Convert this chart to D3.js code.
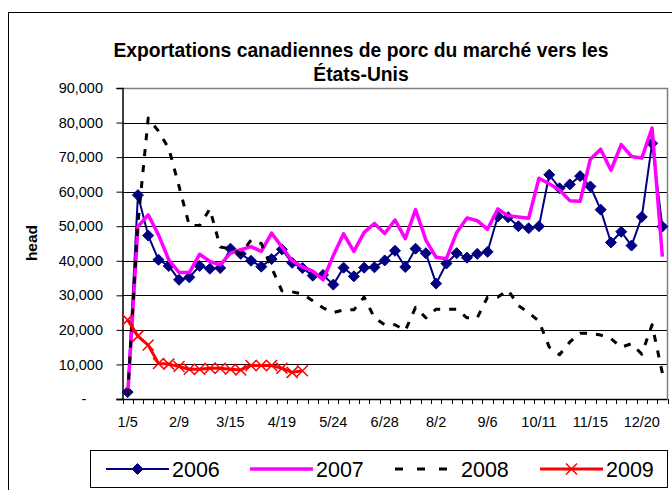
<!DOCTYPE html>
<html>
<head>
<meta charset="utf-8">
<title>Exportations canadiennes de porc</title>
<script src="https://d3js.org/d3.v7.min.js"></script>
<style>
  html, body { margin: 0; padding: 0; background: #fff; }
  svg { display: block; font-family: Arial, "Liberation Sans", sans-serif; }
</style>
</head>
<body>
<div id="chart"></div>
<script>
// weekly categories (2008 Saturdays)
const weeks = ["1/5","1/12","1/19","1/26","2/2","2/9","2/16","2/23","3/1","3/8","3/15","3/22","3/29",
  "4/5","4/12","4/19","4/26","5/3","5/10","5/17","5/24","5/31","6/7","6/14","6/21","6/28",
  "7/5","7/12","7/19","7/26","8/2","8/9","8/16","8/23","8/30","9/6","9/13","9/20","9/27",
  "10/4","10/11","10/18","10/25","11/1","11/8","11/15","11/22","11/29","12/6","12/13","12/20","12/27","1/3"];

const labelWeeks = ["1/5","2/9","3/15","4/19","5/24","6/28","8/2","9/6","10/11","11/15","12/20"];

const yTicks = [0,10000,20000,30000,40000,50000,60000,70000,80000,90000];

const v2006 = [2000,59000,47300,40300,38500,34500,35200,38500,37700,37900,43500,42000,40000,38300,40500,
  43300,39400,37900,35700,35900,33100,38000,35500,38000,38100,40100,42900,38200,43500,42200,33400,39200,
  42200,40900,42000,42600,52800,52600,50000,49400,50000,64900,61000,62100,64500,61500,54800,45300,48400,
  44400,52700,74000,49900];

const v2007 = [1000,49900,53300,47500,40300,36600,36600,41900,39800,38800,42200,43200,44100,42700,48000,
  44000,40000,38200,37000,34500,41500,47800,42700,48200,50800,47900,51800,46400,54800,46000,41000,40600,
  48200,52400,51600,49100,55000,53000,52700,52300,63900,62300,60500,57400,57200,69400,72300,66200,73600,
  70200,69700,78400,41200];

const v2008 = [1000,51000,81300,77500,72500,61500,50200,50200,55000,44000,43500,42000,46000,45000,38000,
  31300,31000,30400,28400,26400,25000,25800,25800,29500,23500,21500,21500,19800,26500,23500,26000,26000,
  26000,23500,23500,29500,29500,31500,27000,25000,22500,15000,12800,16500,19000,19000,18500,17500,15000,
  16000,13000,21500,7500];

const v2009 = [22900,18200,15600,10300,10100,9400,8600,8600,8900,8900,8600,8400,9700,9700,9700,8900,7700,8200];

const series = [
  { name: "2006", values: v2006, color: "#000080", width: 2, dash: null, marker: "diamond" },
  { name: "2007", values: v2007, color: "#FF00FF", width: 3.5, dash: null, marker: null },
  { name: "2008", values: v2008, color: "#000000", width: 3, dash: "7,9", marker: null },
  { name: "2009", values: v2009, color: "#FF0000", width: 3, dash: null, marker: "x" }
];

const W = 672, H = 490;
const plot = { left: 122.5, right: 667.5, top: 88, bottom: 399 };
const font = "Arial, 'Liberation Sans', sans-serif";

const svg = d3.select("#chart").append("svg")
  .attr("width", W).attr("height", H);

svg.append("rect").attr("width", W).attr("height", H).attr("fill", "#fff");

// outer chart border
svg.append("rect")
  .attr("x", 8.5).attr("y", 12.5).attr("width", 700).attr("height", 500)
  .attr("fill", "none").attr("stroke", "#000").attr("stroke-width", 1);

const x = d3.scaleBand().domain(weeks).range([plot.left, plot.right]).padding(0);
const cx = d => x(d) + x.bandwidth() / 2;
const y = d3.scaleLinear().domain([0, 90000]).range([plot.bottom, plot.top]);

// gridlines
svg.append("g").selectAll("line")
  .data(yTicks.filter(t => t > 0 && t < 90000))
  .join("line")
  .attr("x1", plot.left).attr("x2", plot.right)
  .attr("y1", d => Math.round(y(d)) + 0.5).attr("y2", d => Math.round(y(d)) + 0.5)
  .attr("stroke", "#000").attr("stroke-width", 1);

// plot area border (top/right gray)
svg.append("path")
  .attr("d", `M${plot.left},${plot.top + 0.5}H${plot.right}V${plot.bottom}`)
  .attr("fill", "none").attr("stroke", "#808080").attr("stroke-width", 1.5);

// y axis
const yAxis = svg.append("g")
  .attr("transform", `translate(${plot.left},0)`)
  .call(d3.axisLeft(y).tickValues(yTicks).tickSize(6).tickPadding(13.5)
    .tickFormat(d => d === 0 ? "" : d3.format(",")(d)));
yAxis.select(".domain").attr("stroke", "#000").attr("stroke-width", 1.5);
yAxis.selectAll(".tick line").attr("stroke", "#000");
yAxis.selectAll(".tick text").attr("font-size", 14.5).attr("fill", "#000")
  .attr("font-family", font);
svg.append("text")
  .attr("x", 84).attr("y", y(0) + 5)
  .attr("text-anchor", "middle").attr("font-size", 14.5).text("-");

// x axis: tick marks at category boundaries, labels every 5th week
const xAxis = svg.append("g")
  .attr("transform", `translate(0,${plot.bottom})`)
  .call(d3.axisBottom(x).tickValues(labelWeeks).tickSize(0).tickPadding(17.5));
xAxis.select(".domain").remove();
xAxis.selectAll(".tick text").attr("font-size", 14.5).attr("fill", "#000")
  .attr("font-family", font);

svg.append("g").selectAll("line")
  .data(weeks.concat(["end"]))
  .join("line")
  .attr("x1", (d, i) => Math.round(plot.left + i * x.bandwidth()) + 0.5)
  .attr("x2", (d, i) => Math.round(plot.left + i * x.bandwidth()) + 0.5)
  .attr("y1", plot.bottom).attr("y2", plot.bottom + 5)
  .attr("stroke", "#000");
svg.append("line")
  .attr("x1", plot.left - 6).attr("x2", plot.right)
  .attr("y1", plot.bottom + 0.5).attr("y2", plot.bottom + 0.5)
  .attr("stroke", "#000").attr("stroke-width", 1.5);

// series
const line = d3.line().x((d, i) => cx(weeks[i])).y(d => y(d));

function drawMarker(g, type, color, px, py) {
  if (type === "diamond") {
    g.append("path")
      .attr("d", `M${px},${py - 5.5}L${px + 5.5},${py}L${px},${py + 5.5}L${px - 5.5},${py}Z`)
      .attr("fill", color).attr("stroke", color).attr("stroke-width", 1);
  } else if (type === "x") {
    const s = 5.5;
    g.append("path")
      .attr("d", `M${px - s},${py - s}L${px + s},${py + s}M${px - s},${py + s}L${px + s},${py - s}`)
      .attr("stroke", color).attr("stroke-width", 1.5).attr("fill", "none");
  }
}

series.forEach(s => {
  const g = svg.append("g");
  g.append("path")
    .datum(s.values)
    .attr("d", line)
    .attr("fill", "none")
    .attr("stroke", s.color)
    .attr("stroke-width", s.width)
    .attr("stroke-dasharray", s.dash)
    .attr("stroke-linejoin", "round");
  if (s.marker) {
    s.values.forEach((v, i) => drawMarker(g, s.marker, s.color, cx(weeks[i]), y(v)));
  }
});

// title
const title = svg.append("text")
  .attr("text-anchor", "middle").attr("font-weight", "bold").attr("font-size", 19.3);
title.append("tspan").attr("x", 361).attr("y", 57).text("Exportations canadiennes de porc du marché vers les");
title.append("tspan").attr("x", 361).attr("y", 81).text("États-Unis");

// y axis title
svg.append("text")
  .attr("transform", "translate(37,243) rotate(-90)")
  .attr("text-anchor", "middle").attr("font-weight", "bold").attr("font-size", 15.5)
  .text("head");

// legend
const legend = svg.append("g");
legend.append("rect")
  .attr("x", 90.5).attr("y", 450.5).attr("width", 577).attr("height", 37)
  .attr("fill", "#fff").attr("stroke", "#000").attr("stroke-width", 1);

const legendX = [106, 250, 395, 540];
series.forEach((s, i) => {
  const lx = legendX[i], ly = 469;
  const g = legend.append("g");
  g.append("line")
    .attr("x1", lx).attr("x2", lx + 63).attr("y1", ly).attr("y2", ly)
    .attr("stroke", s.color).attr("stroke-width", s.width)
    .attr("stroke-dasharray", s.dash ? "8,14" : null);
  if (s.marker) drawMarker(g, s.marker, s.color, lx + 31.5, ly);
  g.append("text")
    .attr("x", lx + 66).attr("y", ly + 7.5)
    .attr("font-size", 21.5).attr("fill", "#000")
    .text(s.name);
});
</script>
</body>
</html>
